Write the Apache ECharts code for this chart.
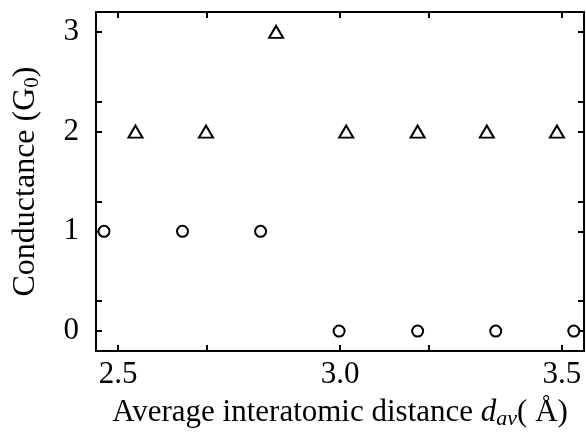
<!DOCTYPE html>
<html>
<head>
<meta charset="utf-8">
<script src="https://cdn.jsdelivr.net/npm/echarts@6/dist/echarts.min.js"></script>
<style>
  html, body { margin: 0; padding: 0; background: #fff; }
  #chart { width: 586px; height: 437px; }
</style>
</head>
<body>
<div id="chart"></div>
<script>
// circles: conductance vs average distance
const circleX = [2.468, 2.645, 2.821, 2.998, 3.175, 3.351, 3.527];
const circleY = [1, 1, 1, 0, 0, 0, 0];
// triangles
const triX = [2.539, 2.698, 2.856, 3.014, 3.175, 3.331, 3.489];
const triY = [2, 2, 3, 2, 2, 2, 2];

const xTicks = [2.5, 3.0, 3.5];
const yTicks = [0, 1, 2, 3];

const font = 'Liberation Serif';
const chart = echarts.init(document.getElementById('chart'));

const pair = (xs, ys) => xs.map((x, i) => [x, ys[i]]);

const axisCommon = {
  axisLine: { show: true, onZero: false, lineStyle: { color: '#000', width: 2 } },
  axisTick: { show: true, inside: true, length: 6, lineStyle: { color: '#000', width: 2 } },
  minorTick: { show: true, splitNumber: 2, length: 6, lineStyle: { color: '#000', width: 2 } },
  splitLine: { show: false }
};

chart.setOption({
  animation: false,
  grid: { left: 96, top: 12, right: 2, bottom: 86, outerBoundsMode: 'none' },
  xAxis: [
    {
      type: 'value', min: 2.45, max: 3.55, interval: 0.5,
      ...axisCommon,
      axisLabel: {
        color: '#000', fontFamily: font, fontSize: 31, margin: 8,
        customValues: xTicks,
        formatter: v => v.toFixed(1)
      },
      axisTick: { ...axisCommon.axisTick, customValues: xTicks },
      name: 'Average interatomic distance {i|d}{s|av}{n|( Å)}',
      nameLocation: 'middle', nameGap: 45,
      nameTextStyle: {
        color: '#000', fontFamily: font, fontSize: 31,
        rich: {
          i: { fontFamily: font, fontSize: 31, fontStyle: 'italic', color: '#000' },
          s: { fontFamily: font, fontSize: 22, fontStyle: 'italic', color: '#000', padding: [12, 0, 0, 0] },
          n: { fontFamily: font, fontSize: 31, color: '#000' }
        }
      }
    },
    {
      type: 'value', position: 'top', min: 2.45, max: 3.55, interval: 0.5,
      ...axisCommon,
      axisTick: { ...axisCommon.axisTick, customValues: xTicks },
      axisLabel: { show: false }
    }
  ],
  yAxis: [
    {
      type: 'value', min: -0.2, max: 3.2, interval: 1,
      ...axisCommon,
      axisTick: { ...axisCommon.axisTick, customValues: yTicks },
      axisLabel: {
        color: '#000', fontFamily: font, fontSize: 31, margin: 17,
        customValues: yTicks
      },
      name: 'Conductance (G{s|0})',
      nameLocation: 'middle', nameGap: 53, nameRotate: 90,
      nameTextStyle: {
        color: '#000', fontFamily: font, fontSize: 32,
        rich: {
          s: { fontFamily: font, fontSize: 21, color: '#000', padding: [13, 0, 0, 0] }
        }
      }
    },
    {
      type: 'value', position: 'right', min: -0.2, max: 3.2, interval: 1,
      ...axisCommon,
      axisTick: { ...axisCommon.axisTick, customValues: yTicks },
      axisLabel: { show: false }
    }
  ],
  series: [
    {
      type: 'scatter', data: pair(circleX, circleY),
      symbol: 'circle', symbolSize: 11,
      itemStyle: { color: '#fff', borderColor: '#000', borderWidth: 2, opacity: 1 }
    },
    {
      type: 'scatter', data: pair(triX, triY),
      symbol: 'triangle', symbolSize: [14, 12],
      itemStyle: { color: '#fff', borderColor: '#000', borderWidth: 2, opacity: 1 }
    }
  ]
});
</script>
</body>
</html>
